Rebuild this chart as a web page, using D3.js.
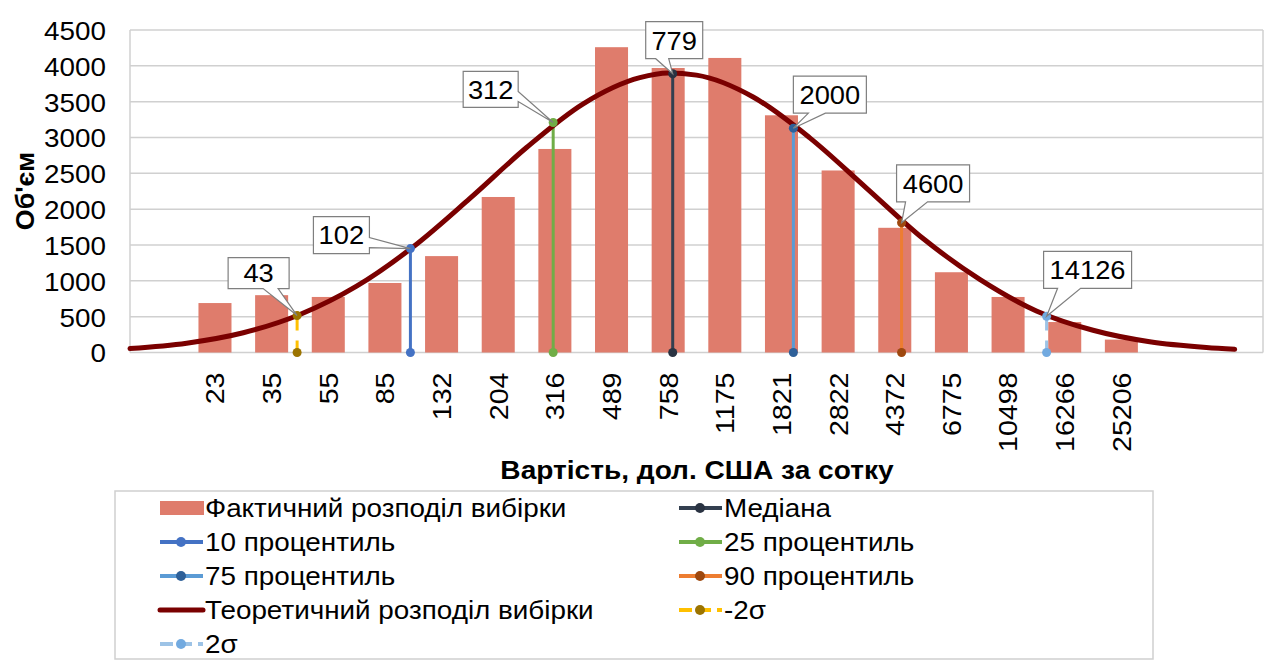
<!DOCTYPE html>
<html>
<head>
<meta charset="utf-8">
<script src="https://cdn.jsdelivr.net/npm/d3@7"></script>
<style>
body { margin: 0; background: #fff; }
text { font-family: "Liberation Sans", Arial, sans-serif; fill: #000; }
</style>
</head>
<body>
<svg id="chart" width="1267" height="662"></svg>
<script>
// категорії (порожні слоти по краях, як в оригіналі)
var categories = ["", "23", "35", "55", "85", "132", "204", "316", "489", "758", "1175",
                  "1821", "2822", "4372", "6775", "10498", "16266", "25206", "", ""];
var barValues = [null, 690, 800, 775, 970, 1345, 2170, 2840, 4260, 3970, 4110,
                 3310, 2540, 1740, 1120, 775, 425, 180, null, null];

// теоретична крива (позиція в одиницях категорій від лівого краю)
var theoPos = [0, 1, 2, 3, 4, 5, 6, 7, 8, 9, 9.5, 10, 11, 12, 13, 14, 15, 16, 17, 18, 19, 19.5];
var theoValues = [55, 130, 275, 530, 925, 1475, 2150, 2860, 3470, 3835, 3900, 3870,
                  3565, 2995, 2295, 1590, 1020, 580, 310, 150, 70, 45];

// перцентилі / сигми
var markerNames = ["-2σ", "10 процентиль", "25 процентиль", "Медіана", "75 процентиль", "90 процентиль", "2σ"];
var markerLabels = ["43", "102", "312", "779", "2000", "4600", "14126"];
var markerPos = [2.95, 4.95, 7.47, 9.58, 11.71, 13.62, 16.18];
var markerTop = [515, 1450, 3210, 3890, 3130, 1810, 505];

var yTicks = [0, 500, 1000, 1500, 2000, 2500, 3000, 3500, 4000, 4500];

var legendOrder = ["Фактичний розподіл вибірки", "Медіана", "10 процентиль", "25 процентиль",
                   "75 процентиль", "90 процентиль", "Теоретичний розподіл вибірки", "-2σ", "2σ"];

// стилі
var barColor = "#df7c6c";
var curveColor = "#7a0000";
var markerStyle = {
  "-2σ":           {line: "#ffc000", dot: "#9c7400", dash: "12,10"},
  "10 процентиль": {line: "#4472c4", dot: "#4472c4", dash: null},
  "25 процентиль": {line: "#70ad47", dot: "#70ad47", dash: null},
  "Медіана":       {line: "#333f50", dot: "#2a3342", dash: null},
  "75 процентиль": {line: "#5b9bd5", dot: "#2e6099", dash: null},
  "90 процентиль": {line: "#ed7d31", dot: "#9e480e", dash: null},
  "2σ":            {line: "#9dc3e6", dot: "#72aae0", dash: "12,10"}
};
// розміщення виносок відносно точки
var calloutLayout = [
  {dx: -69, dy: -58, w: 61, h: 31, side: "bottom", a0: -34, a1: -19},
  {dx: -97, dy: -32, w: 56, h: 37, side: "right",  a0: -11, a1: -1},
  {dx: -90, dy: -51, w: 55, h: 36, side: "right",  a0: -31, a1: -21},
  {dx: -27, dy: -52, w: 57, h: 37, side: "bottom", a0: -17, a1: -4},
  {dx: 0,   dy: -52, w: 73, h: 37, side: "bottom", a0: 15,  a1: 32},
  {dx: -5,  dy: -58, w: 73, h: 37, side: "bottom", a0: 4,   a1: 26},
  {dx: -3,  dy: -65, w: 88, h: 37, side: "bottom", a0: 11,  a1: 34}
];

var margin = {top: 30, left: 130},
    width = 1133,
    height = 322.5;

// трохи ширший шрифт, як в оригіналі
function stretch(sel, k) {
  sel.each(function() {
    var len = this.getComputedTextLength();
    d3.select(this).attr("textLength", len * k).attr("lengthAdjust", "spacingAndGlyphs");
  });
}

var svg = d3.select("#chart");
var g = svg.append("g").attr("transform", "translate(" + margin.left + "," + margin.top + ")");

var xBand = d3.scaleBand().domain(d3.range(categories.length)).range([0, width])
    .paddingInner(0.417).paddingOuter(0.2085);
var xu = d3.scaleLinear().domain([0, categories.length]).range([0, width]);
var y = d3.scaleLinear().domain([0, 4500]).range([height, 0]);

// сітка
g.append("g").selectAll("line").data(yTicks).enter().append("line")
    .attr("x1", 0).attr("x2", width)
    .attr("y1", function(d) { return y(d); }).attr("y2", function(d) { return y(d); })
    .attr("stroke", "#d0d0d0").attr("stroke-width", 1.5);
g.append("line").attr("x1", 0).attr("x2", 0).attr("y1", 0).attr("y2", height)
    .attr("stroke", "#d0d0d0").attr("stroke-width", 1.5);
g.append("line").attr("x1", width).attr("x2", width).attr("y1", 0).attr("y2", height)
    .attr("stroke", "#d0d0d0").attr("stroke-width", 1.5);

// вісь Y
var yAxis = g.append("g").attr("transform", "translate(-24,0)")
    .call(d3.axisLeft(y).tickValues(yTicks).tickSize(0).tickPadding(0).tickFormat(d3.format("d")));
yAxis.select(".domain").remove();
yAxis.selectAll("text").style("font-size", "26px").attr("dy", "0.36em")
    .style("font-family", "'Liberation Sans', Arial, sans-serif").style("fill", "#000")
    .call(stretch, 1.07);

// вісь X
var xAxis = g.append("g").attr("transform", "translate(0," + height + ")")
    .call(d3.axisBottom(xBand).tickSize(0).tickFormat(function(i) { return categories[i]; }));
xAxis.select(".domain").remove();
xAxis.selectAll("text")
    .style("font-size", "26px")
    .style("font-family", "'Liberation Sans', Arial, sans-serif").style("fill", "#000")
    .style("text-anchor", "end")
    .attr("transform", "rotate(-90)")
    .attr("x", -20).attr("y", 0).attr("dy", "0.36em")
    .call(stretch, 1.1);

// стовпці
g.selectAll(".bar").data(barValues.map(function(v, i) { return {i: i, v: v}; })
        .filter(function(d) { return d.v != null; }))
    .enter().append("rect").attr("class", "bar")
    .attr("x", function(d) { return xBand(d.i); })
    .attr("width", xBand.bandwidth())
    .attr("y", function(d) { return y(d.v); })
    .attr("height", function(d) { return y(0) - y(d.v); })
    .attr("fill", barColor);

var markers = markerNames.map(function(n, i) {
  return {name: n, label: markerLabels[i], pos: markerPos[i], top: markerTop[i], lay: calloutLayout[i]};
});

// вертикальні лінії
g.selectAll(".mline").data(markers).enter().append("line").attr("class", "mline")
    .attr("x1", function(d) { return xu(d.pos); }).attr("x2", function(d) { return xu(d.pos); })
    .attr("y1", y(0)).attr("y2", function(d) { return y(d.top); })
    .attr("stroke", function(d) { return markerStyle[d.name].line; })
    .attr("stroke-width", 3)
    .attr("stroke-dasharray", function(d) { return markerStyle[d.name].dash; });

// теоретична крива
var line = d3.line()
    .x(function(d) { return xu(d[0]); })
    .y(function(d) { return y(d[1]); })
    .curve(d3.curveMonotoneX);
g.append("path").datum(theoPos.map(function(p, i) { return [p, theoValues[i]]; }))
    .attr("d", line).attr("fill", "none")
    .attr("stroke", curveColor).attr("stroke-width", 5).attr("stroke-linecap", "round");

// точки
markers.forEach(function(d) {
  [0, d.top].forEach(function(v) {
    g.append("circle").attr("cx", xu(d.pos)).attr("cy", y(v)).attr("r", 4.5)
        .attr("fill", markerStyle[d.name].dot);
  });
});

// виноски
function calloutPath(b, p, side, a0, a1) {
  var x0 = b.x, y0 = b.y, x1 = b.x + b.w, y1 = b.y + b.h, pts;
  if (side === "bottom") {
    pts = [[x0, y0], [x1, y0], [x1, y1], [a1, y1], p, [a0, y1], [x0, y1]];
  } else {
    pts = [[x0, y0], [x1, y0], [x1, a0], p, [x1, a1], [x1, y1], [x0, y1]];
  }
  return "M" + pts.join("L") + "Z";
}
var co = g.selectAll(".callout").data(markers).enter().append("g").attr("class", "callout");
co.append("path")
    .attr("d", function(d) {
      var px = xu(d.pos), py = y(d.top), L = d.lay;
      var b = {x: px + L.dx, y: py + L.dy, w: L.w, h: L.h};
      var a0 = L.side === "bottom" ? px + L.a0 : py + L.a0;
      var a1 = L.side === "bottom" ? px + L.a1 : py + L.a1;
      return calloutPath(b, [px, py], L.side, a0, a1);
    })
    .attr("fill", "#fff").attr("stroke", "#7f7f7f").attr("stroke-width", 1.2);
co.append("text")
    .attr("x", function(d) { return xu(d.pos) + d.lay.dx + d.lay.w / 2; })
    .attr("y", function(d) { return y(d.top) + d.lay.dy + d.lay.h / 2; })
    .attr("dy", "0.36em").attr("text-anchor", "middle")
    .style("font-size", "26px")
    .text(function(d) { return d.label; })
    .call(stretch, 1.05);

// заголовки осей
svg.append("text").attr("x", 697).attr("y", 479).attr("text-anchor", "middle")
    .style("font-size", "26px").style("font-weight", "bold")
    .text("Вартість, дол. США за сотку")
    .call(stretch, 1.08);
svg.append("text").attr("transform", "translate(34,191) rotate(-90)").attr("text-anchor", "middle")
    .style("font-size", "26px").style("font-weight", "bold")
    .text("Об'єм")
    .call(stretch, 1.03);

// легенда
svg.append("rect").attr("x", 115).attr("y", 491).attr("width", 1038).attr("height", 168)
    .attr("fill", "#fff").attr("stroke", "#cfcfcf").attr("stroke-width", 1.5);
var leg = svg.selectAll(".leg").data(legendOrder).enter().append("g").attr("class", "leg")
    .attr("transform", function(d, i) {
      return "translate(" + (i % 2 === 0 ? 160 : 679) + "," + (508 + Math.floor(i / 2) * 34) + ")";
    });
leg.each(function(d) {
  var s = d3.select(this);
  if (d === legendOrder[0]) {
    s.append("rect").attr("x", 0).attr("y", -7).attr("width", 44).attr("height", 14).attr("fill", barColor);
  } else if (d === "Теоретичний розподіл вибірки") {
    s.append("line").attr("x1", 0).attr("x2", 43).attr("stroke", curveColor).attr("stroke-width", 5)
        .attr("stroke-linecap", "round");
  } else {
    var st = markerStyle[d];
    s.append("line").attr("x1", 0).attr("x2", 43).attr("stroke", st.line).attr("stroke-width", 4)
        .attr("stroke-dasharray", st.dash ? "13,6" : null);
    s.append("circle").attr("cx", 21).attr("cy", 0).attr("r", 5).attr("fill", st.dot);
  }
  s.append("text").attr("x", 45).attr("y", 0).attr("dy", "0.36em")
      .style("font-size", "26px").text(d)
      .call(stretch, 1.07);
});
</script>
</body>
</html>
